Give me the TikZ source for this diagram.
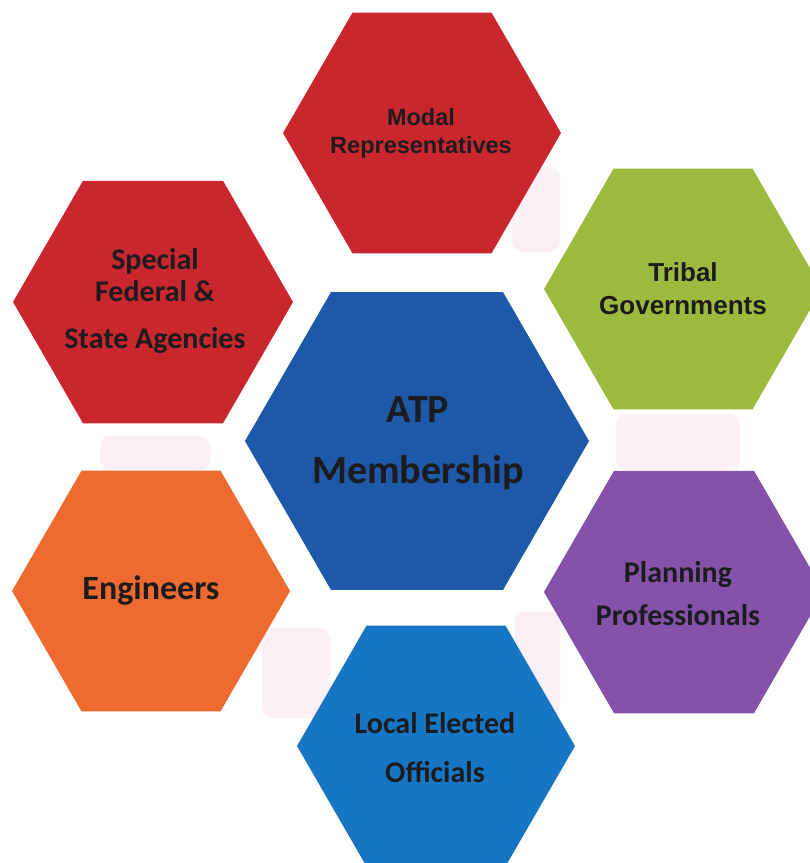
\documentclass[tikz,border=0pt]{standalone}
\usepackage{fontspec}
\setmainfont{Carlito}
\newfontfamily\arialf{Liberation Sans}
\usetikzlibrary{shapes.geometric}
\definecolor{hexred}{RGB}{201,38,46}
\definecolor{hexgreen}{RGB}{156,186,62}
\definecolor{hexblue}{RGB}{30,88,168}
\definecolor{hexorange}{RGB}{238,106,46}
\definecolor{hexpurple}{RGB}{132,82,168}
\definecolor{hexlight}{RGB}{22,118,196}
\definecolor{txt}{RGB}{28,28,30}
\definecolor{haze}{RGB}{251,240,245}
\begin{document}
\begin{tikzpicture}[x=1pt,y=-1pt,
  hexa/.style={regular polygon, regular polygon sides=6, inner sep=0pt, draw=none},
  lbl/.style={align=center, text=txt, inner sep=0pt},
  hazebox/.style={fill=haze, rounded corners=10pt}]
\fill[white] (0,0) rectangle (810,863);
\useasboundingbox (0,0) rectangle (810,863);
% faint pink shading in the gaps
\fill[hazebox] (512,168) rectangle (560,252);
\fill[hazebox] (100,436) rectangle (210,470);
\fill[hazebox] (616,414) rectangle (740,470);
\fill[hazebox] (262,628) rectangle (330,718);
\fill[hazebox] (515,612) rectangle (560,718);
% hexagons
\node[hexa, fill=hexred, minimum size=278pt] (modal) at (422,133) {};
\node[hexa, fill=hexred, minimum size=280pt] (special) at (153,302) {};
\node[hexa, fill=hexgreen, minimum size=278pt] (tribal) at (683,289) {};
\node[hexa, fill=hexblue, minimum size=344pt] (atp) at (417,441) {};
\node[hexa, fill=hexorange, minimum size=278pt] (eng) at (151,591) {};
\node[hexa, fill=hexpurple, minimum size=280pt] (plan) at (684,592) {};
\node[hexa, fill=hexlight, minimum size=278pt] (local) at (436,746) {};
% labels
\node[lbl, font={\arialf\bfseries\fontsize{23.5}{28}\selectfont}] (modalt) at (421,133) {Modal\\Representatives};
\node[lbl, font={\bfseries\fontsize{30}{32}\selectfont}] (specialt) at (155,301) {Special\\Federal \&\\[15pt]State Agencies};
\node[lbl, font={\arialf\bfseries\fontsize{26}{33}\selectfont}] (tribalt) at (683,289) {Tribal\\Governments};
\node[lbl, font={\bfseries\fontsize{40}{61}\selectfont}] (atpt) at (418,443) {ATP\\Membership};
\node[lbl, font={\bfseries\fontsize{34}{40}\selectfont}] (engt) at (151,590) {Engineers};
\node[lbl, font={\bfseries\fontsize{30}{43}\selectfont}] (plant) at (678,594) {Planning\\Professionals};
\node[lbl, font={\bfseries\fontsize{30}{49}\selectfont}] (localt) at (435,748) {Local Elected\\Officials};
\end{tikzpicture}
\end{document}
